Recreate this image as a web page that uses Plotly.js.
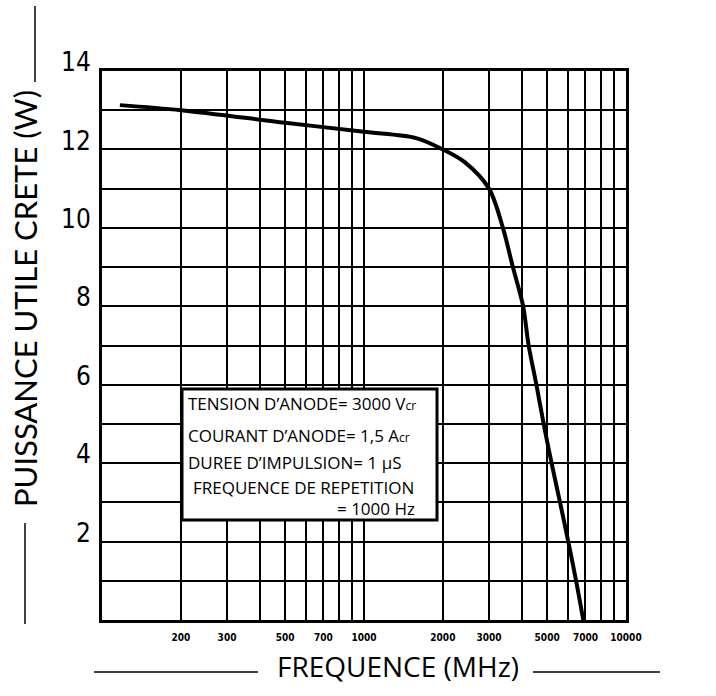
<!DOCTYPE html>
<html>
<head>
<meta charset="utf-8">
<script src="https://cdn.plot.ly/plotly-3.0.1.min.js"></script>
<style>html,body{margin:0;padding:0;background:#fff;}#chart{width:716px;height:696px;}</style>
</head>
<body>
<div id="chart"></div>
<script>
// Curve data
const frequencyMHz = [117, 200, 500, 1000, 1580, 2000, 2430, 3000, 3390, 3700, 4050, 4250, 4550, 4850, 5200, 5600, 6020, 6450, 6870];
const powerW       = [13.13, 13.0, 12.68, 12.45, 12.29, 12.0, 11.67, 11.0, 10.0, 9.0, 8.0, 7.0, 6.0, 5.0, 4.0, 3.0, 2.0, 1.0, 0];

// Axis ticks / grid
const xTickVals = [200, 300, 400, 500, 600, 700, 800, 900, 1000, 2000, 3000, 4000, 5000, 6000, 7000, 8000, 9000, 10000];
const xTickText = ['200', '300', '', '500', '', '700', '', '', '1000', '2000', '3000', '', '5000', '', '7000', '', '', '10000'];
const yTickVals = [0, 1, 2, 3, 4, 5, 6, 7, 8, 9, 10, 11, 12, 13, 14];
const yTickText = ['', '', '2', '', '4', '', '6', '', '8', '', '10', '', '12', '', '14'];

// Text
const xTitle = 'FREQUENCE (MHz)';
const yTitle = 'PUISSANCE UTILE CRETE (W)';
const boxLines = [
  'TENSION D\u2019ANODE= 3000 V<span style="font-size:12px">cr</span>',
  'COURANT D\u2019ANODE= 1,5 A<span style="font-size:12px">cr</span>',
  'DUREE D\u2019IMPULSION= 1 \u00b5S',
  'FREQUENCE DE REPETITION',
  '= 1000 Hz'
];

// Layout geometry (pixels)
const L = 102, R = 626, T = 71, B = 620, W = 716, H = 696;
const pw = R - L, ph = B - T;
const px = v => (v - L) / pw;
const py = v => (B - v) / ph;

const mainFont = '"Open Sans", Lato, sans-serif';
const boxPos = [[186, 403], [186, 436], [186, 462], [191, 487], [335, 508]];

const annotations = boxLines.map((t, i) => ({
  text: t, xref: 'paper', yref: 'paper', x: px(boxPos[i][0]), y: py(boxPos[i][1]),
  xanchor: 'left', yanchor: 'middle', showarrow: false,
  font: {family: mainFont, size: 17, color: '#000'}
}));
annotations.push({
  text: xTitle, xref: 'paper', yref: 'paper', x: px(398), y: py(666),
  xanchor: 'center', yanchor: 'middle', showarrow: false,
  font: {family: mainFont, size: 28, color: '#000'}
});
annotations.push({
  text: yTitle, xref: 'paper', yref: 'paper', x: px(25), y: py(299),
  xanchor: 'center', yanchor: 'middle', showarrow: false, textangle: -90,
  font: {family: 'Lato, sans-serif', size: 31, color: '#000'}
});

const shapes = [
  {type: 'rect', xref: 'paper', yref: 'paper', x0: px(182), x1: px(437), y0: py(520), y1: py(389),
   fillcolor: '#fff', line: {color: '#000', width: 3}, layer: 'above'},
  {type: 'line', xref: 'paper', yref: 'paper', x0: px(94), x1: px(258), y0: py(672), y1: py(672), line: {color: '#000', width: 1.5}},
  {type: 'line', xref: 'paper', yref: 'paper', x0: px(533), x1: px(660), y0: py(672), y1: py(672), line: {color: '#000', width: 1.5}},
  {type: 'line', xref: 'paper', yref: 'paper', x0: px(35), x1: px(35), y0: py(6), y1: py(82), line: {color: '#000', width: 1.5}},
  {type: 'line', xref: 'paper', yref: 'paper', x0: px(25), x1: px(25), y0: py(523), y1: py(624), line: {color: '#000', width: 1.5}}
];

const data = [{
  x: frequencyMHz, y: powerW, type: 'scatter', mode: 'lines',
  line: {color: '#000', width: 4, shape: 'spline', smoothing: 0.9},
  hoverinfo: 'skip'
}];

const layout = {
  width: W, height: H,
  margin: {l: L, r: W - R, t: T, b: H - B},
  paper_bgcolor: '#fff', plot_bgcolor: '#fff',
  showlegend: false,
  xaxis: {
    type: 'log', range: [2, 4], tickmode: 'array', tickvals: xTickVals, ticktext: xTickText,
    showgrid: true, gridcolor: '#000', gridwidth: 2, zeroline: false,
    showline: true, mirror: true, linecolor: '#000', linewidth: 3,
    ticks: '', ticklabelstandoff: 6,
    tickfont: {family: '"DejaVu Sans Condensed", "Liberation Sans Narrow", "DejaVu Sans", sans-serif', size: 10, color: '#000', weight: 'bold'}
  },
  yaxis: {
    range: [0, 14], tickmode: 'array', tickvals: yTickVals, ticktext: yTickText,
    showgrid: true, gridcolor: '#000', gridwidth: 2, zeroline: false,
    showline: true, mirror: true, linecolor: '#000', linewidth: 3,
    ticks: '', ticklabelstandoff: 3, ticklabelshift: -9,
    tickfont: {family: '"Liberation Sans Narrow", "DejaVu Sans Condensed", sans-serif', size: 26, color: '#000'}
  },
  annotations: annotations,
  shapes: shapes
};

Plotly.newPlot('chart', data, layout, {staticPlot: true});
</script>
</body>
</html>
